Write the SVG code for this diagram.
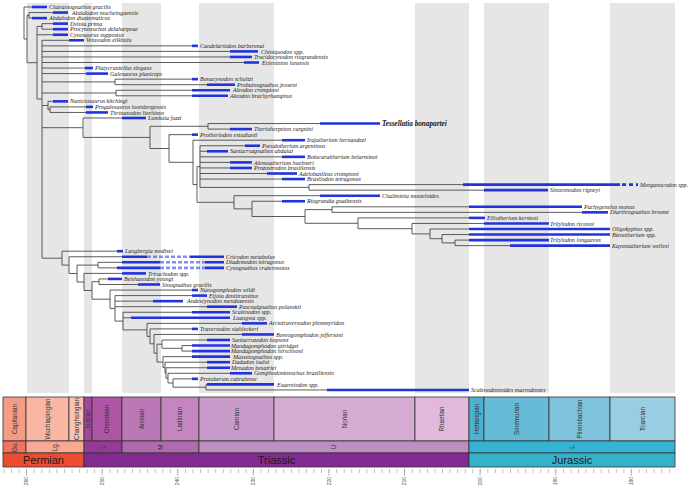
<svg xmlns="http://www.w3.org/2000/svg" width="689" height="493" viewBox="0 0 689 493">
<style>
.t{font-family:"Liberation Serif",serif;font-style:italic;font-size:6px;fill:#222}
.tb{font-family:"Liberation Serif",serif;font-style:italic;font-weight:bold;font-size:7.2px;fill:#111}
.b{stroke:#2233dd;stroke-width:2.6;fill:none}
.bd{stroke:#2233dd;stroke-width:2.6;fill:none;stroke-dasharray:4 2;opacity:0.55}
.ln{stroke:#404040;stroke-width:0.85;fill:none}
.band{fill:#e6e6e6}
.box{stroke:#333;stroke-width:0.8}
.sl{font-family:"Liberation Sans",Arial,sans-serif;font-size:6.3px;fill:#333;text-anchor:middle}
.pl{font-family:"Liberation Sans",Arial,sans-serif;font-size:11px;fill:#1a1a1a;text-anchor:middle}
.al{font-family:"Liberation Sans",Arial,sans-serif;font-size:5px;fill:#555;text-anchor:end}
</style>
<defs>
<pattern id="tk" x="26.2" y="0" width="7.56" height="10" patternUnits="userSpaceOnUse"><rect x="0" y="0" width="0.6" height="10" fill="#999"/></pattern>
</defs>
<rect width="689" height="493" fill="#fff"/>
<g id="bands">
<rect class="band" x="27" y="3" width="42" height="390"/>
<rect class="band" x="84" y="3" width="8" height="390"/>
<rect class="band" x="122" y="3" width="39" height="390"/>
<rect class="band" x="199" y="3" width="75" height="390"/>
<rect class="band" x="415" y="3" width="54" height="390"/>
<rect class="band" x="484" y="3" width="65" height="390"/>
<rect class="band" x="610" y="3" width="65" height="390"/>
</g>
<g id="timescale">
<g class="box">
<rect x="3" y="397" width="23" height="44" fill="#F59C84"/>
<rect x="26" y="397" width="43" height="44" fill="#F8B6A3"/>
<rect x="69" y="397" width="15" height="44" fill="#F9C4B4"/>
<rect x="84" y="397" width="8" height="44" fill="#A4489E"/>
<rect x="92" y="397" width="30" height="44" fill="#AE55A6"/>
<rect x="122" y="397" width="39" height="44" fill="#BA79B6"/>
<rect x="161" y="397" width="38" height="44" fill="#C586C0"/>
<rect x="199" y="397" width="75" height="44" fill="#C79CCB"/>
<rect x="274" y="397" width="141" height="44" fill="#D3ABD3"/>
<rect x="415" y="397" width="54" height="44" fill="#E1BADB"/>
<rect x="469" y="397" width="15" height="44" fill="#4DB2D2"/>
<rect x="484" y="397" width="65" height="44" fill="#66BBD7"/>
<rect x="549" y="397" width="61" height="44" fill="#7FC4DC"/>
<rect x="610" y="397" width="65" height="44" fill="#98CDE2"/>
<rect x="3" y="441" width="23" height="12" fill="#F3735E"/>
<rect x="26" y="441" width="58" height="12" fill="#F8A893"/>
<rect x="84" y="441" width="38" height="12" fill="#963A98"/>
<rect x="122" y="441" width="77" height="12" fill="#B06BAF"/>
<rect x="199" y="441" width="270" height="12" fill="#BD8EC2"/>
<rect x="469" y="441" width="206" height="12" fill="#35B3D4"/>
<rect x="3" y="453" width="81" height="14" fill="#EB4D33"/>
<rect x="84" y="453" width="385" height="14" fill="#812B92"/>
<rect x="469" y="453" width="206" height="14" fill="#34B2C9"/>
</g>
<g class="sl">
<text transform="translate(14.5 419) rotate(-90)" dy=".35em">Capitanian</text>
<text transform="translate(47.5 419) rotate(-90)" dy=".35em">Wuchiapingian</text>
<text transform="translate(76.5 419) rotate(-90)" dy=".35em">Changhsingian</text>
<text transform="translate(88 419) rotate(-90)" dy=".35em">Induan</text>
<text transform="translate(107 419) rotate(-90)" dy=".35em">Olenekian</text>
<text transform="translate(141.5 419) rotate(-90)" dy=".35em">Anisian</text>
<text transform="translate(180 419) rotate(-90)" dy=".35em">Ladinian</text>
<text transform="translate(236.5 419) rotate(-90)" dy=".35em">Carnian</text>
<text transform="translate(344.5 419) rotate(-90)" dy=".35em">Norian</text>
<text transform="translate(442 419) rotate(-90)" dy=".35em">Rhaetian</text>
<text transform="translate(476.5 419) rotate(-90)" dy=".35em">Hettangian</text>
<text transform="translate(516.5 419) rotate(-90)" dy=".35em">Sinemurian</text>
<text transform="translate(579.5 419) rotate(-90)" dy=".35em">Pliensbachian</text>
<text transform="translate(642.5 419) rotate(-90)" dy=".35em">Toarcian</text>
<text transform="translate(14.5 447) rotate(-90)" dy=".35em">Gu.</text>
<text transform="translate(55 447) rotate(-90)" dy=".35em">Lg.</text>
<text transform="translate(103 447) rotate(-90)" dy=".35em">L</text>
<text transform="translate(160.5 447) rotate(-90)" dy=".35em">M</text>
<text transform="translate(334 447) rotate(-90)" dy=".35em">U</text>
<text transform="translate(572 447) rotate(-90)" dy=".35em">L</text>
</g>
<g class="pl">
<text x="43.5" y="464">Permian</text>
<text x="276.5" y="464">Triassic</text>
<text x="572" y="464">Jurassic</text>
</g>
<rect x="3" y="469" width="673" height="4" fill="url(#tk)"/>
<path d="M26.5 469v7M102.1 469v7M177.7 469v7M253.3 469v7M328.9 469v7M404.5 469v7M480.1 469v7M555.7 469v7M631.3 469v7" stroke="#999" stroke-width="0.6"/>
<g class="al">
<text transform="translate(26.5 477) rotate(-90)" dy=".35em">260</text>
<text transform="translate(102.1 477) rotate(-90)" dy=".35em">250</text>
<text transform="translate(177.7 477) rotate(-90)" dy=".35em">240</text>
<text transform="translate(253.3 477) rotate(-90)" dy=".35em">230</text>
<text transform="translate(328.9 477) rotate(-90)" dy=".35em">220</text>
<text transform="translate(404.5 477) rotate(-90)" dy=".35em">210</text>
<text transform="translate(480.1 477) rotate(-90)" dy=".35em">200</text>
<text transform="translate(555.7 477) rotate(-90)" dy=".35em">190</text>
<text transform="translate(631.3 477) rotate(-90)" dy=".35em">180</text>
</g>
</g>
<g id="connectors" class="ln">
<path d="M24 7V39M24 7H32M24 39H27"/>
<path d="M27 15.3V62.7M27 15.3H29M27 62.7H37"/>
<path d="M29 12.55V18.1M29 12.55H53M29 18.1H32"/>
<path d="M37 26.4V99M37 26.4H42M37 34.75H53M37 99H42"/>
<path d="M42 23.65V29.2M42 23.65H53M42 29.2H53"/>
<path d="M42 40.3V258.2M42 40.3H69M42 45.85H192M42 51.4H230M42 56.95H230M42 62.5H244M42 68.05H85M42 73.6H86M42 81.9H115M42 93H116M42 105.5H48M42 127.7H83M42 258.2H62"/>
<path d="M115 79.15V84.7M115 79.15H192M115 84.7H207"/>
<path d="M116 90.25V95.8M116 90.25H192M116 95.8H192"/>
<path d="M48 101.35V109.7M48 101.35H53M48 109.7H50"/>
<path d="M50 106.9V112.45M50 106.9H86M50 112.45H86"/>
<path d="M83 118V137.4M83 118H122M83 137.4H150"/>
<path d="M150 126.3V148.5M150 126.3H208M150 148.5H169"/>
<path d="M208 123.55V129.1M208 123.55H320M208 129.1H230"/>
<path d="M169 134.65V162.3M169 134.65H192M169 162.3H193"/>
<path d="M193 140.2V184.5M193 140.2H282M193 184.5H197"/>
<path d="M197 166.6V202.3M197 166.6H200M197 202.3H234"/>
<path d="M200 145.75V187.4M200 145.75H245M200 151.3H207M200 156.85H282M200 162.4H230M200 167.95H230M200 173.5H267M200 179.05H282M200 187.4H309"/>
<path d="M309 184.6V190.15M309 184.6H463M309 190.15H484"/>
<path d="M234 195.7V208.9M234 195.7H320M234 208.9H252"/>
<path d="M252 201.25V216.5M252 201.25H282M252 216.5H305"/>
<path d="M305 209.6V223.3M305 209.6H332M305 223.3H358"/>
<path d="M332 206.8V212.35M332 206.8H469M332 212.35H582"/>
<path d="M358 217.9V228.7M358 217.9H469M358 228.7H412"/>
<path d="M412 223.45V233.9M412 223.45H484M412 233.9H430"/>
<path d="M430 229V238.7M430 229H469M430 238.7H442"/>
<path d="M442 234.55V242.9M442 234.55H469M442 242.9H455"/>
<path d="M455 240.1V245.65M455 240.1H469M455 245.65H510"/>
<path d="M62 251.2V265.1M62 251.2H117M62 265.1H69"/>
<path d="M69 256.75V273.5M69 256.75H122M69 273.5H77"/>
<path d="M77 265.1V282M77 265.1H98M77 282H84"/>
<path d="M98 262.3V267.85M98 262.3H122M98 267.85H117"/>
<path d="M84 273.4V290.5M84 273.4H122M84 290.5H92"/>
<path d="M92 281.7V299.2M92 281.7H99M92 299.2H110"/>
<path d="M99 278.95V284.5M99 278.95H108M99 284.5H138"/>
<path d="M110 290.05V308.4M110 290.05H192M110 308.4H115"/>
<path d="M115 295.6V321.1M115 295.6H192M115 301.15H153M115 306.7H207M115 321.1H123"/>
<path d="M123 312.25V329.9M123 312.25H192M123 317.8H131M123 329.9H147"/>
<path d="M147 323.35V336.4M147 323.35H242M147 336.4H150"/>
<path d="M150 328.9V343.8M150 328.9H192M150 343.8H154"/>
<path d="M154 334.45V353.2M154 334.45H242M154 353.2H157"/>
<path d="M157 344.2V362.1M157 344.2H162M157 362.1H163"/>
<path d="M162 340V348.3M162 340H207M162 348.3H182"/>
<path d="M182 345.55V351.1M182 345.55H192M182 351.1H192"/>
<path d="M163 356.65V367.6M163 356.65H192M163 367.6H165"/>
<path d="M165 362.2V373M165 362.2H207M165 373H166"/>
<path d="M166 367.75V378.2M166 367.75H207M166 378.2H168"/>
<path d="M168 373.3V383M168 373.3H230M168 383H173"/>
<path d="M173 378.85V387.2M173 378.85H192M173 387.2H206"/>
<path d="M206 384.4V389.95M206 384.4H207M206 389.95H327"/>
</g>
<g id="tips">
<g id="charassognathus"><path class="b" d="M32 7H47"/><text class="t" x="49" y="9.1">Charassognathus gracilis</text></g>
<g id="abdalodon-m"><path class="b" d="M53 12.55H68"/><text class="t" x="72" y="14.65">Abdalodon mucheingaensis</text></g>
<g id="abdalodon-d"><path class="b" d="M32 18.1H47"/><text class="t" x="49" y="20.2">Abdalodon diastematicus</text></g>
<g id="dvinia"><path class="b" d="M53 23.65H68"/><text class="t" x="70" y="25.75">Dvinia prima</text></g>
<g id="procynosuchus"><path class="b" d="M53 29.2H68"/><text class="t" x="70" y="31.3">Procynosuchus delaharpeae</text></g>
<g id="cynosaurus"><path class="b" d="M53 34.75H68"/><text class="t" x="70" y="36.85">Cynosaurus suppostus</text></g>
<g id="vetusodon"><path class="b" d="M69 40.3H84"/><text class="t" x="86" y="42.4">Vetusodon elikhulu</text></g>
<g id="candelariodon"><path class="b" d="M192 45.85H198"/><text class="t" x="200" y="47.95">Candelariodon barberenai</text></g>
<g id="chiniquodon"><path class="b" d="M230 51.4H258"/><text class="t" x="261" y="53.5">Chiniquodon spp.</text></g>
<g id="trucidocynodon"><path class="b" d="M230 56.95H252"/><text class="t" x="254" y="59.05">Trucidocynodon riograndensis</text></g>
<g id="ecteninion"><path class="b" d="M244 62.5H259"/><text class="t" x="262" y="64.6">Ecteninion lunensis</text></g>
<g id="platycraniellus"><path class="b" d="M85 68.05H93"/><text class="t" x="95" y="70.15">Platycraniellus elegans</text></g>
<g id="galesaurus"><path class="b" d="M86 73.6H108"/><text class="t" x="110" y="75.7">Galesaurus planiceps</text></g>
<g id="bonacynodon"><path class="b" d="M192 79.15H198"/><text class="t" x="200" y="81.25">Bonacynodon schultzi</text></g>
<g id="probainognathus"><path class="b" d="M207 84.7H235"/><text class="t" x="237" y="86.8">Probainognathus jenseni</text></g>
<g id="aleodon-c"><path class="b" d="M192 90.25H230"/><text class="t" x="233" y="92.35">Aleodon cromptoni</text></g>
<g id="aleodon-b"><path class="b" d="M192 95.8H228"/><text class="t" x="230" y="97.9">Aleodon brachyrhamphus</text></g>
<g id="nanictosaurus"><path class="b" d="M53 101.35H68"/><text class="t" x="70" y="103.45">Nanictosaurus kitchingi</text></g>
<g id="progalesaurus"><path class="b" d="M86 106.9H93"/><text class="t" x="95" y="109">Progalesaurus lootsbergensis</text></g>
<g id="thrinaxodon"><path class="b" d="M86 112.45H108"/><text class="t" x="110" y="114.55">Thrinaxodon liorhinus</text></g>
<g id="lumkuia"><path class="b" d="M122 118H146"/><text class="t" x="148" y="120.1">Lumkuia fuzzi</text></g>
<g id="tessellatia"><path class="b" d="M320 123.55H380"/><text class="tb" x="382" y="126">Tessellatia bonapartei</text></g>
<g id="therioherpeton"><path class="b" d="M230 129.1H252"/><text class="t" x="254" y="131.2">Therioherpeton cargnini</text></g>
<g id="protheriodon"><path class="b" d="M192 134.65H198"/><text class="t" x="200" y="136.75">Protheriodon estudianti</text></g>
<g id="irajatherium"><path class="b" d="M282 140.2H305"/><text class="t" x="307" y="142.3">Irajatherium hernandezi</text></g>
<g id="pseudotherium"><path class="b" d="M245 145.75H260"/><text class="t" x="262" y="147.85">Pseudotherium argentinus</text></g>
<g id="santacruzgnathus"><path class="b" d="M207 151.3H228"/><text class="t" x="230" y="153.4">Santacruzgnathus abdalai</text></g>
<g id="botucaraitherium"><path class="b" d="M282 156.85H305"/><text class="t" x="307" y="158.95">Botucaraitherium belarminoi</text></g>
<g id="alemoatherium"><path class="b" d="M230 162.4H252"/><text class="t" x="254" y="164.5">Alemoatherium huebneri</text></g>
<g id="prozostrodon"><path class="b" d="M230 167.95H252"/><text class="t" x="254" y="170.05">Prozostrodon brasiliensis</text></g>
<g id="adelobasileus"><path class="b" d="M267 173.5H297"/><text class="t" x="299" y="175.6">Adelobasileus cromptoni</text></g>
<g id="brasilodon"><path class="b" d="M282 179.05H305"/><text class="t" x="307" y="181.15">Brasilodon tetragonus</text></g>
<g id="morganucodon"><path class="b" d="M463 184.6H620"/><path class="b" d="M622 184.6H626M629 184.6H633M636 184.6H638"/><text class="t" x="640" y="186.7">Morganucodon spp.</text></g>
<g id="sinoconodon"><path class="b" d="M484 190.15H548"/><text class="t" x="550" y="192.25">Sinoconodon rigneyi</text></g>
<g id="chaliminia"><path class="b" d="M320 195.7H380"/><text class="t" x="382" y="197.8">Chaliminia musteloides</text></g>
<g id="riograndia"><path class="b" d="M282 201.25H305"/><text class="t" x="307" y="203.35">Riograndia guaibensis</text></g>
<g id="pachygenelus"><path class="b" d="M469 206.8H582"/><text class="t" x="584" y="208.9">Pachygenelus monus</text></g>
<g id="diarthrognathus"><path class="b" d="M582 212.35H608"/><text class="t" x="610" y="214.45">Diarthrognathus broomi</text></g>
<g id="elliotherium"><path class="b" d="M469 217.9H485"/><text class="t" x="487" y="220">Elliotherium kersteni</text></g>
<g id="tritylodon-r"><path class="b" d="M484 223.45H549"/><text class="t" x="550" y="225.55">Tritylodon riconoi</text></g>
<g id="oligokyphus"><path class="b" d="M469 229H610"/><text class="t" x="612" y="231.1">Oligokyphus spp.</text></g>
<g id="bienotherium"><path class="b" d="M469 234.55H610"/><text class="t" x="612" y="236.65">Bienotherium spp.</text></g>
<g id="tritylodon-l"><path class="b" d="M469 240.1H549"/><text class="t" x="550" y="242.2">Tritylodon longaevus</text></g>
<g id="kayentatherium"><path class="b" d="M510 245.65H610"/><text class="t" x="612" y="247.75">Kayentatherium wellesi</text></g>
<g id="langbergia"><path class="b" d="M117 251.2H123"/><text class="t" x="125" y="253.3">Langbergia modisei</text></g>
<g id="cricodon"><path class="b" d="M122 256.75H147M190 256.75H224"/><path class="bd" d="M147 256.75H190"/><text class="t" x="226" y="258.85">Cricodon metabolus</text></g>
<g id="diademodon"><path class="b" d="M122 262.3H160M205 262.3H224"/><path class="bd" d="M160 262.3H205"/><text class="t" x="226" y="264.4">Diademodon tetragonus</text></g>
<g id="cynognathus"><path class="b" d="M117 267.85H160M205 267.85H224"/><path class="bd" d="M160 267.85H205"/><text class="t" x="226" y="269.95">Cynognathus crateronotus</text></g>
<g id="trirachodon"><path class="b" d="M122 273.4H146"/><text class="t" x="148" y="275.5">Trirachodon spp.</text></g>
<g id="beishanodon"><path class="b" d="M108 278.95H122"/><text class="t" x="124" y="281.05">Beishanodon youngi</text></g>
<g id="sinognathus"><path class="b" d="M138 284.5H160"/><text class="t" x="162" y="286.6">Sinognathus gracilis</text></g>
<g id="nanogomphodon"><path class="b" d="M192 290.05H198"/><text class="t" x="200" y="292.15">Nanogomphodon wildi</text></g>
<g id="etjoia"><path class="b" d="M192 295.6H207"/><text class="t" x="209" y="297.7">Etjoia dentitransitus</text></g>
<g id="andescynodon"><path class="b" d="M153 301.15H183"/><text class="t" x="187" y="303.25">Andescynodon mendozensis</text></g>
<g id="pascualgnathus"><path class="b" d="M207 306.7H237"/><text class="t" x="239" y="308.8">Pascualgnathus polanskii</text></g>
<g id="scalenodon"><path class="b" d="M192 312.25H230"/><text class="t" x="232" y="314.35">Scalenodon spp.</text></g>
<g id="luangwa"><path class="b" d="M131 317.8H230"/><text class="t" x="233" y="319.9">Luangwa spp.</text></g>
<g id="arctotraversodon"><path class="b" d="M242 323.35H267"/><text class="t" x="269" y="325.45">Arctotraversodon plemmyridon</text></g>
<g id="traversodon"><path class="b" d="M192 328.9H198"/><text class="t" x="200" y="331">Traversodon stahleckeri</text></g>
<g id="boreogomphodon"><path class="b" d="M242 334.45H274"/><text class="t" x="276" y="336.55">Boreogomphodon jeffersoni</text></g>
<g id="santacruzodon"><path class="b" d="M207 340H230"/><text class="t" x="232" y="342.1">Santacruzodon hopsoni</text></g>
<g id="mandagomphodon-a"><path class="b" d="M192 345.55H230"/><text class="t" x="231" y="347.65">Mandagomphodon attridgei</text></g>
<g id="mandagomphodon-h"><path class="b" d="M192 351.1H230"/><text class="t" x="231" y="353.2">Mandagomphodon hirschsoni</text></g>
<g id="massetognathus"><path class="b" d="M192 356.65H230"/><text class="t" x="233" y="358.75">Massetognathus spp.</text></g>
<g id="dadadon"><path class="b" d="M207 362.2H230"/><text class="t" x="232" y="364.3">Dadadon isaloi</text></g>
<g id="menadon"><path class="b" d="M207 367.75H230"/><text class="t" x="231" y="369.85">Menadon besairiei</text></g>
<g id="gomphodontosuchus"><path class="b" d="M230 373.3H252"/><text class="t" x="254" y="375.4">Gomphodontosuchus brasiliensis</text></g>
<g id="protuberum"><path class="b" d="M192 378.85H198"/><text class="t" x="200" y="380.95">Protuberum cabralense</text></g>
<g id="exaeretodon"><path class="b" d="M207 384.4H274"/><text class="t" x="277" y="386.5">Exaeretodon spp.</text></g>
<g id="scalenodontoides"><path class="b" d="M327 389.95H469"/><text class="t" x="471" y="392.05">Scalenodontoides macrodontes</text></g>
</g>
</svg>
